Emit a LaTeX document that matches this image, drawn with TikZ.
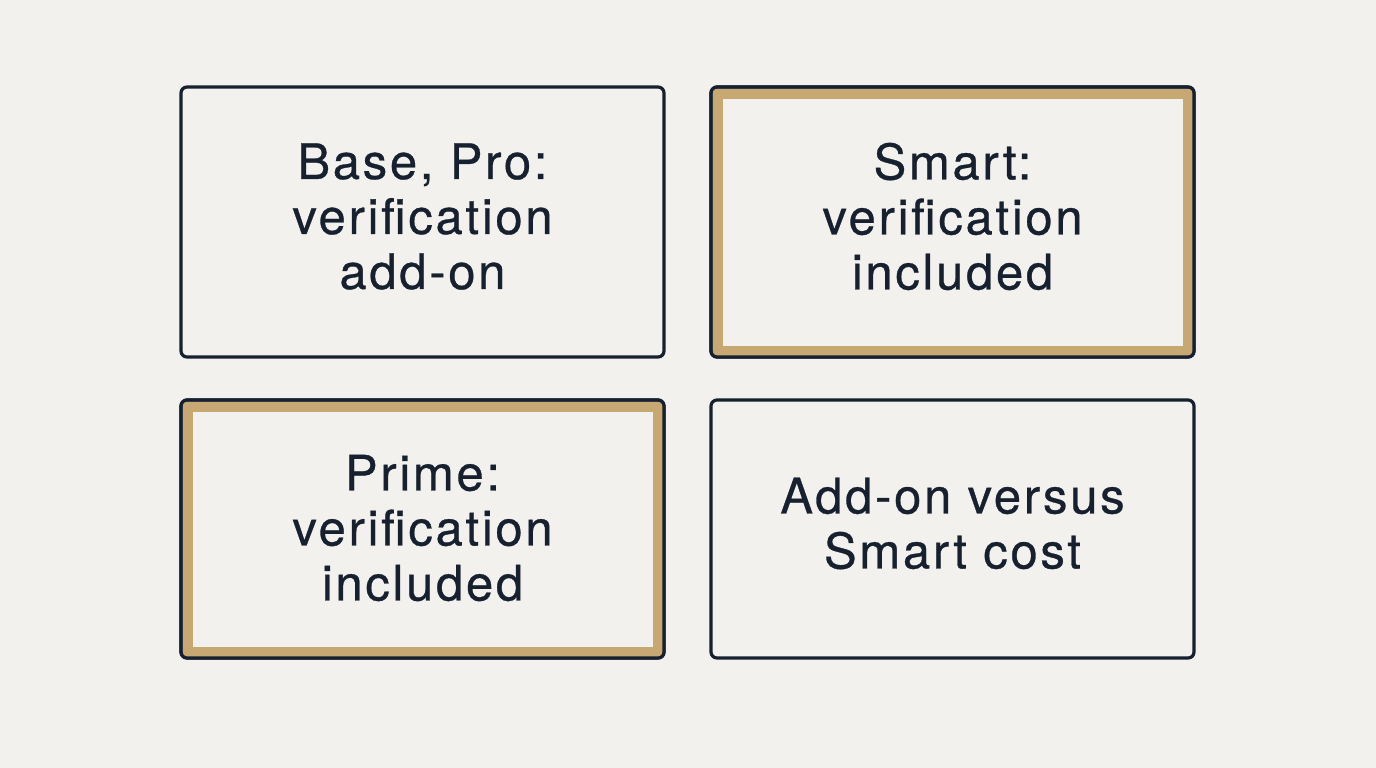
\documentclass[tikz,border=0pt]{standalone}
\usepackage{fontspec}
\setmainfont{TeX Gyre Heros}[LetterSpace=5.5,FakeBold=0.6]
\definecolor{bg}{HTML}{F2F1ED}
\definecolor{ink}{HTML}{16202E}
\definecolor{gold}{HTML}{C8A872}
\tikzset{
  card/.style={draw=ink, line width=3.2pt, rounded corners=6pt, fill=bg},
  goldband/.style={draw=gold, line width=10pt},
  label/.style={text=ink, align=center, font=\fontsize{49}{55}\selectfont},
}
\begin{document}
\begin{tikzpicture}[x=1pt,y=-1pt]
\useasboundingbox[fill=bg] (0,0) rectangle (1376,768);
% cards
\draw[card] (181,87) rectangle (664,357);
\draw[card] (711,87) rectangle (1194,357);
\draw[goldband] (711+6.5,87+6.5) rectangle (1194-6.5,357-6.5);
\draw[card] (181,400) rectangle (664,658);
\draw[goldband] (181+6.5,400+6.5) rectangle (664-6.5,658-6.5);
\draw[ink, line width=3.2pt, rounded corners=6pt] (711,87) rectangle (1194,357);
\draw[ink, line width=3.2pt, rounded corners=6pt] (181,400) rectangle (664,658);
\draw[card] (711,400) rectangle (1194,658);
\node[label] (a) at (422.5,216.5) {Base, Pro:\\verification\\add-on};
\node[label] (b) at (952.5,216.5) {Smart:\\verification\\included};
\node[label] (c) at (422.5,528) {Prime:\\verification\\included};
\node[label] (d) at (952.5,523.5) {Add-on versus\\Smart cost};
\end{tikzpicture}
\end{document}
